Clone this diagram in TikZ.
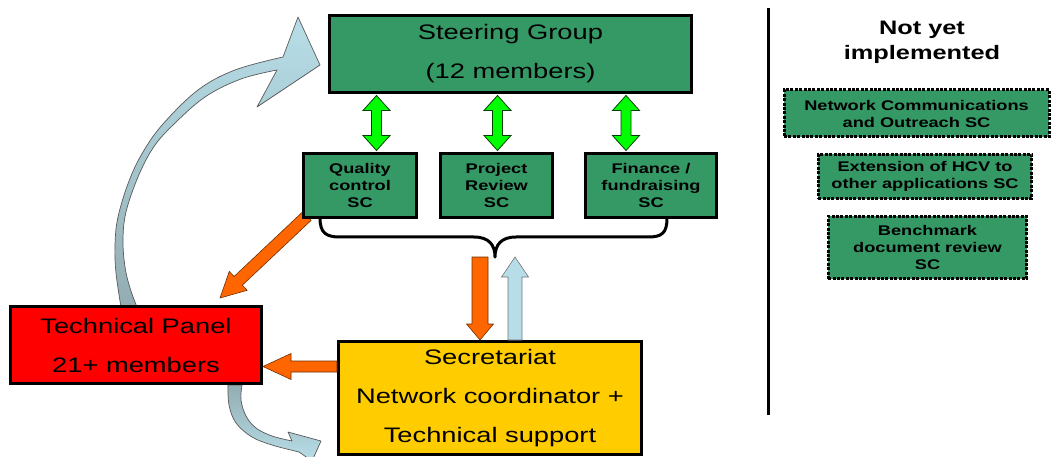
\documentclass[tikz,border=0pt]{standalone}
\usepackage{fontspec}
\setmainfont{Liberation Sans}[FakeStretch=1.3]
\usetikzlibrary{calc,backgrounds}

\definecolor{scgreen}{HTML}{359966}
\definecolor{panelred}{HTML}{FE0000}
\definecolor{secyellow}{HTML}{FFCC00}
\definecolor{fatorange}{HTML}{FF6600}
\definecolor{paleblue}{HTML}{B7DEE8}
\definecolor{greyblue}{HTML}{93ADB2}
\definecolor{brightgreen}{HTML}{00FF00}

\newcommand\mainsz{\fontsize{21}{39}\selectfont}
\newcommand\scsz{\bfseries\fontsize{14}{17}\selectfont}
\newcommand\hdrsz{\bfseries\fontsize{19.5}{25}\selectfont}

% straight block arrow: style, tail, tip, half shaft, half head, head length
\newcommand\blockarrow[6]{%
  \coordinate (ba-h) at ($(#3)!#6!(#2)$);
  \draw[#1] ($(#2)!#4!90:(#3)$) -- ($(ba-h)!#4!90:(#3)$) -- ($(ba-h)!#5!90:(#3)$)
    -- (#3) -- ($(ba-h)!#5!-90:(#3)$) -- ($(ba-h)!#4!-90:(#3)$)
    -- ($(#2)!#4!-90:(#3)$) -- cycle;}
% block arrow with a head at both ends
\newcommand\dblarrow[6]{%
  \coordinate (da-a) at ($(#2)!#6!(#3)$);
  \coordinate (da-b) at ($(#3)!#6!(#2)$);
  \draw[#1] (#2) -- ($(da-a)!#5!90:(#3)$) -- ($(da-a)!#4!90:(#3)$)
    -- ($(da-b)!#4!90:(#3)$) -- ($(da-b)!#5!90:(#3)$) -- (#3)
    -- ($(da-b)!#5!-90:(#3)$) -- ($(da-b)!#4!-90:(#3)$)
    -- ($(da-a)!#4!-90:(#3)$) -- ($(da-a)!#5!-90:(#3)$) -- cycle;}

\tikzset{
  box/.style={draw=black, line width=3pt, rectangle, inner sep=0pt, align=center},
  sgbox/.style={box, fill=scgreen, font=\mainsz},
  scbox/.style={box, fill=scgreen, font=\scsz},
  planbox/.style={draw=black, line width=3pt, dash pattern=on 3pt off 1.4pt,
    fill=scgreen, rectangle, inner sep=0pt, align=center, font=\scsz},
  greenarrow/.style={fill=brightgreen, draw=black!75!green, line width=0.8pt, line join=miter},
  orangearrow/.style={fill=fatorange, draw=black!55!fatorange, line width=0.6pt},
  bluearrow/.style={fill=paleblue, draw=black!55, line width=0.6pt},
  curvearrow/.style={draw=black!65, line width=0.7pt, line join=round},
}

\begin{document}
\begin{tikzpicture}[x=1pt,y=-1pt]
\useasboundingbox (0,0) rectangle (1052,457);

% curved feedback arrows
\shadedraw[curvearrow, top color=paleblue, bottom color=greyblue]
  plot[smooth, tension=0.6] coordinates {(121,307) (116,273) (115,245) (118,217) (129,181)
    (143,152) (163,124) (198,90) (235,70) (283,57)}
  -- (298,17) -- (320,65) -- (257,107) -- (277,70)
  -- plot[smooth, tension=0.6] coordinates {(277,70) (241,79) (205,97) (172,126) (153,148)
    (138,177) (126,212) (123,240) (125,267) (130,288) (137,307)} -- cycle;
\shadedraw[curvearrow, top color=greyblue, bottom color=paleblue]
  plot[smooth, tension=0.6] coordinates {(228,385) (229,405) (236,423) (252,437) (272,445) (299,452)}
  -- (312,461) -- (321,441) -- (288,432) -- (292,441)
  -- plot[smooth, tension=0.6] coordinates {(292,441) (272,436) (256,428) (246,416) (241,400) (242,385)}
  -- cycle;

% boxes
\node[sgbox, minimum width=362pt, minimum height=77pt] (sg) at (510.5,54) {Steering Group\\(12 members)};
\node[scbox, minimum width=113pt, minimum height=64pt] (qc) at (360,185.5) {Quality\\control\\SC};
\node[scbox, minimum width=112pt, minimum height=64pt] (pr) at (496.5,185.5) {Project\\Review\\SC};
\node[scbox, minimum width=131pt, minimum height=64pt] (ff) at (651,185.5) {Finance /\\fundraising\\SC};
\node[box, fill=panelred, font=\mainsz, minimum width=251pt, minimum height=77pt] (tp) at (136,345)
  {Technical Panel\\21+ members};
\node[box, fill=secyellow, font=\mainsz, minimum width=303pt, minimum height=113pt] (sec) at (490,398)
  {Secretariat\\Network coordinator +\\Technical support};

% not yet implemented
\draw[line width=3pt] (768.5,8) -- (768.5,415);
\node[font=\hdrsz, align=center] (hdr) at (922,42) {Not yet\\implemented};
\node[planbox, minimum width=265pt, minimum height=47pt] (b1) at (916.5,113.5) {Network Communications\\and Outreach SC};
\node[planbox, minimum width=213.5pt, minimum height=44.5pt] (b2) at (925,176.5) {Extension of HCV to\\other applications SC};
\node[planbox, minimum width=198.5pt, minimum height=62.5pt] (b3) at (927.5,247.5) {Benchmark\\document review\\SC};

% steering group <-> sub-committees
\coordinate (g1b) at ($(qc.north)+(16.5,-1.5)$);
\coordinate (g1t) at ($(g1b |- sg.south)+(0,1.5)$);
\coordinate (g2b) at ($(pr.north)+(1,-1.5)$);
\coordinate (g2t) at ($(g2b |- sg.south)+(0,1.5)$);
\coordinate (g3b) at ($(ff.north)+(-25,-1.5)$);
\coordinate (g3t) at ($(g3b |- sg.south)+(0,1.5)$);
\dblarrow{greenarrow}{g1t}{g1b}{5pt}{13.5pt}{15pt}
\dblarrow{greenarrow}{g2t}{g2b}{5pt}{13.5pt}{15pt}
\dblarrow{greenarrow}{g3t}{g3b}{5pt}{13.5pt}{15pt}

% brace gathering the sub-committees
\coordinate (bl) at (320,218);
\coordinate (br) at (667,218);
\coordinate (bt) at (495,257);
\draw[line width=3pt, line cap=round, line join=round]
  (bl) .. controls (320,233) and (326,237) .. (340,237) -- (474,237)
  .. controls (489,237) and (495,245) .. (bt)
  .. controls (495,245) and (501,237) .. (516,237) -- (648,237)
  .. controls (662,237) and (667,233) .. (br);

% secretariat links
\coordinate (odt) at (480,257);
\coordinate (odh) at (odt |- sec.north);
\blockarrow{orangearrow}{odt}{odh}{8pt}{13.5pt}{16pt}
\coordinate (ubh) at (515,257);
\coordinate (ubt) at (ubh |- sec.north);
\blockarrow{bluearrow}{ubt}{ubh}{7pt}{13.5pt}{20pt}
\coordinate (olt) at (sec.west |- {0,366.5});
\coordinate (olh) at (tp.east |- olt);
\blockarrow{orangearrow}{olt}{olh}{5.5pt}{13pt}{28pt}
\begin{scope}[on background layer]
  \coordinate (qdt) at (307,216);
  \coordinate (qdh) at (220,298);
  \blockarrow{orangearrow}{qdt}{qdh}{6pt}{13pt}{25pt}
\end{scope}
\end{tikzpicture}
\end{document}
